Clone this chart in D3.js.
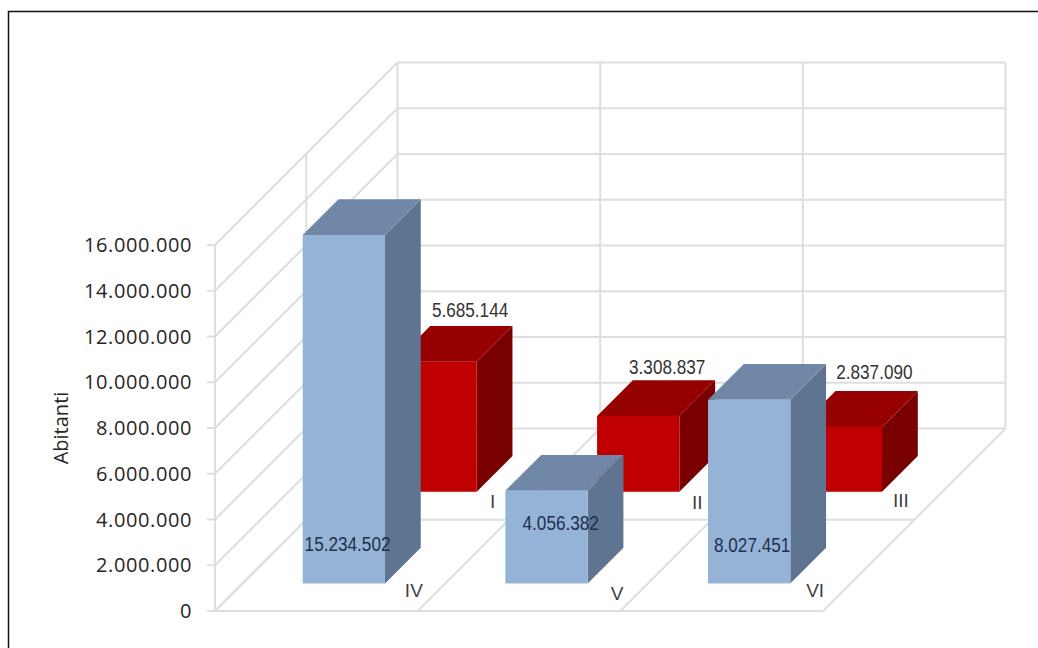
<!DOCTYPE html>
<html>
<head>
<meta charset="utf-8">
<script src="https://cdnjs.cloudflare.com/ajax/libs/d3/7.8.5/d3.min.js"></script>
<style>
  html, body { margin: 0; padding: 0; background: #fff; }
  svg { display: block; }
</style>
</head>
<body>
<div id="vis"></div>
<script>
// data
var gruppoRosso = ["I", "II", "III"];
var gruppoBlu = ["IV", "V", "VI"];
var valoriRosso = [5685144, 3308837, 2837090];
var valoriBlu = [15234502, 4056382, 8027451];
var yTicks = [0, 2000000, 4000000, 6000000, 8000000, 10000000, 12000000, 14000000, 16000000];

var width = 1038, height = 648;

// front-left corner of the floor, and size of the 3d box
var origin = { x: 215, y: 611 };
var boxWidth = 608, boxHeight = 366, boxDepth = 182.5;

var x = d3.scaleBand().domain(d3.range(3)).range([0, boxWidth]).paddingInner(0.594).paddingOuter(0.297);
var y = d3.scaleLinear().domain([0, 16000000]).range([0, boxHeight]);
// series sit one behind the other, blue in front
var z = d3.scaleBand().domain(["blu", "rosso"]).range([0, boxDepth]).paddingInner(0.61).paddingOuter(0.3);

// oblique projection, depth goes up and to the right at 45 degrees
function pt(px, py, pz) {
  return [origin.x + px + pz, origin.y - py - pz];
}
function poly(points) {
  return points.map(function(p) { return p.join(","); }).join(" ");
}

var svg = d3.select("#vis").append("svg").attr("width", width).attr("height", height);

svg.append("rect").attr("width", width).attr("height", height).attr("fill", "#fff");

// outer frame, the right side is cut off in the original
svg.append("path")
  .attr("d", "M8.5,648V11.5H1038")
  .attr("fill", "none")
  .attr("stroke", "#111")
  .attr("stroke-width", 1.5);

// walls and floor grid
var grid = svg.append("g").attr("fill", "none").attr("stroke", "#dedede").attr("stroke-width", 2);

function gridLine(a, b) {
  grid.append("line")
    .attr("x1", a[0]).attr("y1", a[1])
    .attr("x2", b[0]).attr("y2", b[1]);
}

yTicks.forEach(function(t) {
  var v = y(t);
  gridLine(pt(0, v, boxDepth), pt(boxWidth, v, boxDepth)); // back wall
  gridLine(pt(0, v, 0), pt(0, v, boxDepth)); // side wall
  gridLine(pt(-8, v, 0), pt(0, v, 0)); // tick
});

// verticals on the back wall and depth lines on the floor
d3.range(4).forEach(function(i) {
  var cx = i * x.step();
  gridLine(pt(cx, 0, boxDepth), pt(cx, boxHeight, boxDepth));
  gridLine(pt(cx, 0, 0), pt(cx, 0, boxDepth));
});
gridLine(pt(0, 0, 0), pt(boxWidth, 0, 0));
// middle of the depth
gridLine(pt(0, 0, boxDepth / 2), pt(boxWidth, 0, boxDepth / 2));
gridLine(pt(0, 0, boxDepth / 2), pt(0, boxHeight, boxDepth / 2));
gridLine(pt(0, 0, 0), pt(0, boxHeight, 0));

// y axis labels
var numero = function(d) { return d3.format(",")(d).replace(/,/g, "."); };

var axis = svg.append("g")
  .attr("font-family", "'Open Sans', sans-serif")
  .attr("font-size", 20)
  .attr("letter-spacing", 0.6)
  .attr("fill", "#262626");

axis.selectAll("text")
  .data(yTicks)
  .enter().append("text")
  .attr("x", 192)
  .attr("y", function(d) { return origin.y - y(d) + 7; })
  .attr("text-anchor", "end")
  .text(numero);

svg.append("text")
  .attr("transform", "translate(68,428) rotate(-90)")
  .attr("text-anchor", "middle")
  .attr("font-family", "'Open Sans', sans-serif")
  .attr("font-size", 20)
  .attr("fill", "#262626")
  .text("Abitanti");

// one 3d bar
function bar(g, i, value, serie, col) {
  var x0 = x(i), x1 = x(i) + x.bandwidth();
  var z0 = z(serie), z1 = z(serie) + z.bandwidth();
  var h = y(value);
  g.append("polygon").attr("fill", col.side)
    .attr("points", poly([pt(x1, 0, z0), pt(x1, 0, z1), pt(x1, h, z1), pt(x1, h, z0)]));
  g.append("polygon").attr("fill", col.top)
    .attr("points", poly([pt(x0, h, z0), pt(x1, h, z0), pt(x1, h, z1), pt(x0, h, z1)]));
  g.append("polygon").attr("fill", col.front)
    .attr("points", poly([pt(x0, 0, z0), pt(x1, 0, z0), pt(x1, h, z0), pt(x0, h, z0)]));
}

var coloreRosso = { front: "#c00000", top: "#960000", side: "#790000" };
var coloreBlu = { front: "#95b3d7", top: "#7087a8", side: "#5f7490" };

var bars = svg.append("g");
valoriRosso.forEach(function(v, i) { bar(bars, i, v, "rosso", coloreRosso); });
valoriBlu.forEach(function(v, i) { bar(bars, i, v, "blu", coloreBlu); });

// labels, placed by hand in the original so each one has its own nudge
var testi = svg.append("g")
  .attr("font-family", "'Liberation Sans', Arial, sans-serif")
  .attr("font-size", 19)
  .attr("text-anchor", "middle");

// the original numbers are condensed
function stringi(sel) {
  sel.attr("font-size", 19.5).each(function() {
    d3.select(this)
      .attr("textLength", this.getComputedTextLength() * 0.88)
      .attr("lengthAdjust", "spacingAndGlyphs");
  });
}

var nudgeValRosso = [[34.5, -8.7], [29, -6.7], [33.5, -12.5]];
var nudgeValBlu = [3.7, 14.2, 3];
var altezzaValBlu = [32, 53.5, 31];

valoriRosso.forEach(function(v, i) {
  var p = pt(x(i) + x.bandwidth() / 2, y(v), z("rosso") + z.bandwidth());
  testi.append("text")
    .attr("x", p[0] + nudgeValRosso[i][0] - z.bandwidth())
    .attr("y", p[1] + nudgeValRosso[i][1])
    .attr("fill", "#333")
    .text(numero(v))
    .call(stringi);
});
valoriBlu.forEach(function(v, i) {
  var p = pt(x(i) + x.bandwidth() / 2, altezzaValBlu[i], z("blu"));
  testi.append("text")
    .attr("x", p[0] + nudgeValBlu[i])
    .attr("y", p[1])
    .attr("fill", "#1f2f4d")
    .text(numero(v))
    .call(stringi);
});

var nudgeCatRosso = [[57, 16], [59, 17.5], [60, 15.5]];
var nudgeCatBlu = [[70, 13.5], [70.5, 16.5], [66, 13.5]];

gruppoRosso.forEach(function(c, i) {
  var p = pt(x(i), 0, z("rosso"));
  testi.append("text")
    .attr("x", p[0] + x.bandwidth() / 2 + nudgeCatRosso[i][0])
    .attr("y", p[1] + nudgeCatRosso[i][1])
    .attr("fill", "#404040")
    .text(c);
});
gruppoBlu.forEach(function(c, i) {
  var p = pt(x(i), 0, z("blu"));
  testi.append("text")
    .attr("x", p[0] + x.bandwidth() / 2 + nudgeCatBlu[i][0])
    .attr("y", p[1] + nudgeCatBlu[i][1])
    .attr("fill", "#404040")
    .text(c);
});
</script>
</body>
</html>
